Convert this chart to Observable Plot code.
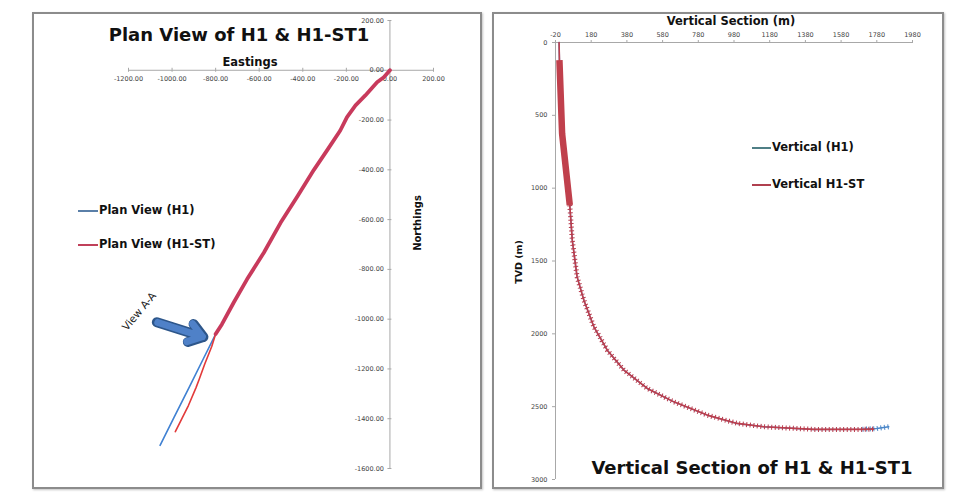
<!DOCTYPE html>
<html><head><meta charset="utf-8">
<script src="https://cdn.jsdelivr.net/npm/d3@7"></script>
<script src="https://cdn.jsdelivr.net/npm/@observablehq/plot@0.6"></script>
<style>
html,body{margin:0;padding:0;background:#fff;}
#page{position:relative;width:954px;height:495px;overflow:hidden;font-family:"DejaVu Sans",sans-serif;background:#fff;}
.frame{position:absolute;box-sizing:border-box;border:2px solid #8c8c8c;box-shadow:1px 1px 2px #c4c4c4;background:#fff;}
.plot{position:absolute;}
.lbl{position:absolute;font-weight:bold;color:#111;white-space:nowrap;transform:translate(-50%,-50%);}
.leg{position:absolute;font-weight:bold;color:#111;white-space:nowrap;font-size:11.5px;line-height:14px;}
.sw{position:absolute;height:2px;}
</style></head>
<body><div id="page">
  <div class="frame" style="left:32px;top:12px;width:450px;height:477px;"></div>
  <div class="frame" style="left:492px;top:12px;width:452px;height:477px;"></div>
  <div id="left" class="plot" style="left:32px;top:12px;"></div>
  <div id="right" class="plot" style="left:492px;top:12px;"></div>

  <div class="lbl" style="left:239px;top:34px;font-size:18px;">Plan View of H1 &amp; H1-ST1</div>
  <div class="lbl" style="left:250px;top:62px;font-size:11.5px;">Eastings</div>
  <div class="lbl" style="left:417px;top:223px;font-size:10px;transform:translate(-50%,-50%) rotate(-90deg);">Northings</div>

  <div class="sw" style="left:78px;top:210px;width:20px;background:#5a7fa8;"></div>
  <div class="leg" style="left:99px;top:203px;">Plan View (H1)</div>
  <div class="sw" style="left:78px;top:244px;width:20px;background:#c0405a;"></div>
  <div class="leg" style="left:99px;top:237px;">Plan View (H1-ST)</div>

  <div class="lbl" style="left:731px;top:21px;font-size:11.5px;">Vertical Section (m)</div>
  <div class="lbl" style="left:518px;top:262px;font-size:9.5px;transform:translate(-50%,-50%) rotate(-90deg);">TVD (m)</div>
  <div class="lbl" style="left:752px;top:467px;font-size:18px;">Vertical Section of H1 &amp; H1-ST1</div>

  <div class="sw" style="left:752px;top:147px;width:19px;background:#4f7f86;"></div>
  <div class="leg" style="left:772px;top:140px;">Vertical (H1)</div>
  <div class="sw" style="left:752px;top:184px;width:19px;background:#b0404f;"></div>
  <div class="leg" style="left:772px;top:177px;">Vertical H1-ST</div>
</div>
<script>
// ---- Plan view data (Eastings / Northings, m) ----
const h1East  = [0,-28,-59,-113,-158,-197,-228,-287,-349,-425,-502,-579,-656,-717,-771,-800,-857,-921,-991,-1055];
const h1North = [0,-28,-48,-101,-141,-188,-242,-320,-400,-507,-613,-733,-840,-933,-1020,-1060,-1160,-1273,-1395,-1507];
const stEast  = [0,-28,-59,-113,-158,-197,-228,-287,-349,-425,-502,-579,-656,-717,-771,-800,-818,-850,-875,-890,-925,-955,-985];
const stNorth = [0,-28,-48,-101,-141,-188,-242,-320,-400,-507,-613,-733,-840,-933,-1020,-1060,-1110,-1180,-1240,-1275,-1347,-1400,-1452];
const eastTicks  = [-1200,-1000,-800,-600,-400,-200,0,200];
const northTicks = [200,0,-200,-400,-600,-800,-1000,-1200,-1400,-1600];
// annotation (data units)
const arrowFromE = -1070, arrowFromN = -1012, arrowToE = -856, arrowToN = -1072;
const viewLabel = "View A-A", viewLabelE = -1151, viewLabelN = -969;

// ---- Vertical section data (VS m / TVD m) ----
const vsH1  = [0,2,17,60,74,101,139,195,270,363,494,643,830,998,1147,1427,1700,1780,1847];
const tvdH1 = [0,121,625,1117,1357,1609,1769,1952,2112,2249,2375,2467,2558,2615,2638,2656,2655,2650,2638];
const vsST  = [0,2,17,60,74,101,139,195,270,363,494,643,830,998,1147,1427,1700,1763];
const tvdST = [0,121,625,1117,1357,1609,1769,1952,2112,2249,2375,2467,2558,2615,2638,2656,2656,2654];
const vsTicks  = [-20,180,380,580,780,980,1180,1380,1580,1780,1980];
const tvdTicks = [0,500,1000,1500,2000,2500,3000];

const planH1 = h1East.map((e,i)=>({e, n:h1North[i]}));
const planST = stEast.map((e,i)=>({e, n:stNorth[i]}));
const vertH1 = vsH1.map((v,i)=>({v, t:tvdH1[i]}));
const vertST = vsST.map((v,i)=>({v, t:tvdST[i]}));
const fmt2 = d => d.toFixed(2);

const left = Plot.plot({
  width: 450, height: 477,
  marginLeft: 96, marginRight: 49, marginTop: 8, marginBottom: 21,
  x: {domain: [-1200, 200], axis: null},
  y: {domain: [-1600, 200], axis: null},
  style: {background: "transparent", color: "#444", fontFamily: "DejaVu Sans"},
  marks: [
    Plot.ruleY([0], {stroke: "#a8a8a8", strokeWidth: 1}),
    Plot.ruleX([0], {y1: -1600, y2: 200, stroke: "#a8a8a8", strokeWidth: 1}),
    Plot.ruleX(eastTicks, {x: d => d, y1: 0, y2: 0, insetTop: -2, insetBottom: -2, stroke: "#a8a8a8"}),
    Plot.ruleY(northTicks, {y: d => d, x1: 0, x2: 0, insetLeft: -2, insetRight: -2, stroke: "#a8a8a8"}),
    Plot.text(eastTicks, {x: d => d, y: 0, dy: 9, text: fmt2, fontSize: 6.5, fill: "#444"}),
    Plot.text(northTicks, {x: 0, y: d => d, dx: -6, textAnchor: "end", text: fmt2, fontSize: 6.5, fill: "#444"}),
    Plot.line(planH1, {x: "e", y: "n", stroke: "#3f80d2", strokeWidth: 1.6}),
    Plot.line(planST, {x: "e", y: "n", stroke: "#e23a3a", strokeWidth: 1.6}),
    Plot.line(planST.filter(d => d.n >= -1060), {x: "e", y: "n", stroke: "#c83a5c", strokeWidth: 3.8}),
    Plot.arrow([{x1: arrowFromE, y1: arrowFromN, x2: arrowToE, y2: arrowToN}],
      {x1: "x1", y1: "y1", x2: "x2", y2: "y2", stroke: "#2d568a", strokeWidth: 10, headLength: 9, headAngle: 70, strokeLinejoin: "miter"}),
    Plot.arrow([{x1: arrowFromE, y1: arrowFromN, x2: arrowToE, y2: arrowToN}],
      {x1: "x1", y1: "y1", x2: "x2", y2: "y2", stroke: "#4f81c8", strokeWidth: 7, headLength: 9, headAngle: 70, strokeLinejoin: "miter", insetStart: 1, insetEnd: 1}),
    Plot.text([viewLabel], {x: viewLabelE, y: viewLabelN, text: d => d, rotate: -50, fontSize: 10.5, fill: "#222"})
  ]
});
document.getElementById("left").appendChild(left);

const right = Plot.plot({
  width: 452, height: 477,
  marginLeft: 63, marginRight: 32, marginTop: 30, marginBottom: 10,
  x: {domain: [-20, 1980]},
  y: {domain: [0, 3000], reverse: true},
  style: {background: "transparent", color: "#444", fontFamily: "DejaVu Sans"},
  marks: [
    Plot.ruleY([0], {stroke: "#a8a8a8"}),
    Plot.ruleX([-20], {stroke: "#a8a8a8"}),
    Plot.axisX({anchor: "top", ticks: vsTicks, tickFormat: d => String(d), tickSize: 3, tickPadding: 3, fontSize: 6.5, label: null, stroke: "#a8a8a8"}),
    Plot.axisY({anchor: "left", ticks: tvdTicks, tickFormat: d => String(d), tickSize: 3, tickPadding: 5, fontSize: 6.5, label: null, stroke: "#a8a8a8"}),
    Plot.line(vertH1, {x: "v", y: "t", stroke: "#4a86c8", strokeWidth: 1.5}),
    Plot.line(vertH1.filter(d => d.v >= 1700), {x: "v", y: "t", stroke: "#4a86c8", strokeWidth: 5, strokeDasharray: "1,2.6", strokeLinecap: "butt"}),
    Plot.line(vertST, {x: "v", y: "t", stroke: "#c0404c", strokeWidth: 1.6}),
    Plot.line(vertST.filter(d => d.t >= 1117), {x: "v", y: "t", stroke: "#b83a4c", strokeWidth: 5, strokeDasharray: "1,2.6", strokeLinecap: "butt"}),
    Plot.line(vertST.filter(d => d.t >= 121 && d.t <= 1117), {x: "v", y: "t", stroke: "#c0404c", strokeWidth: 6.5, strokeLinecap: "butt"})
  ]
});
document.getElementById("right").appendChild(right);
</script>
</body></html>
